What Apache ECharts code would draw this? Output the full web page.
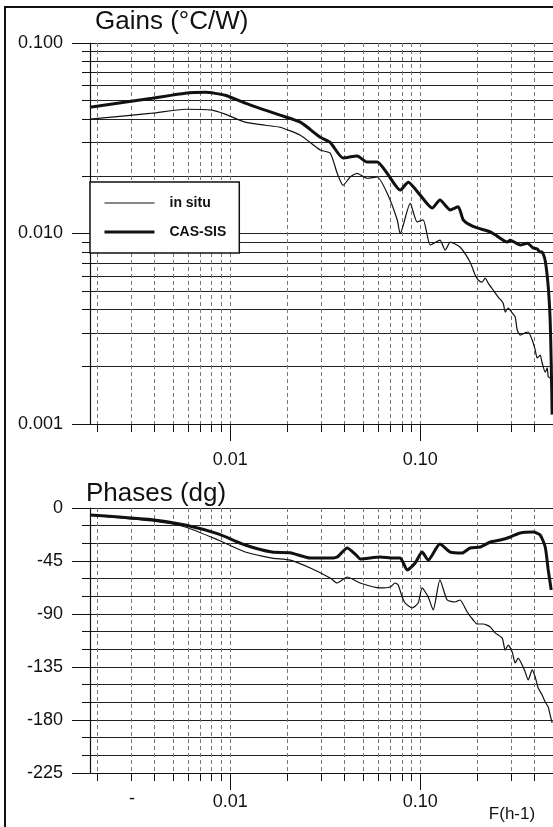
<!DOCTYPE html>
<html>
<head>
<meta charset="utf-8">
<script src="https://cdn.jsdelivr.net/npm/echarts@6/dist/echarts.min.js"></script>
<style>
  html, body { margin: 0; padding: 0; background: #fff; }
  #chart { width: 553px; height: 827px; }
</style>
</head>
<body>
<div id="chart"></div>
<script>
const FONT = '"Liberation Sans", Arial, sans-serif';
const INK = '#111';

// frequency axis, h-1
const F_MIN = 0.00183;
const F_MAX = 0.5;
const freqGrid = [0.002, 0.003, 0.004, 0.005, 0.006, 0.007, 0.008, 0.009, 0.01,
    0.02, 0.03, 0.04, 0.05, 0.06, 0.07, 0.08, 0.09, 0.1, 0.2, 0.3, 0.4, 0.5];
const freqLabels = [0.01, 0.1];

// gain axis (°C/W), log
const gainGrid = [0.001, 0.002, 0.003, 0.004, 0.005, 0.006, 0.007, 0.008, 0.009,
    0.01, 0.02, 0.03, 0.04, 0.05, 0.06, 0.07, 0.08, 0.09, 0.1];
const gainLabels = [0.001, 0.01, 0.1];

// [frequency, gain]
const gainInSitu = [
    [0.00183, 0.0398], [0.00389, 0.0428], [0.0058, 0.0449], [0.00804, 0.0444],
    [0.00941, 0.0423], [0.012, 0.0384], [0.0153, 0.037], [0.0183, 0.0361],
    [0.0234, 0.0328], [0.0298, 0.0274], [0.0336, 0.0264], [0.0366, 0.0207],
    [0.0393, 0.0179], [0.0428, 0.0198], [0.0466, 0.0207], [0.0526, 0.0195],
    [0.0594, 0.0198], [0.067, 0.0163], [0.0757, 0.0118], [0.0785, 0.01],
    [0.0886, 0.0144], [0.0964, 0.0115], [0.1037, 0.0118], [0.113, 0.0087],
    [0.127, 0.00923], [0.1354, 0.00818], [0.144, 0.00902], [0.162, 0.00849],
    [0.183, 0.00708], [0.1947, 0.00605], [0.202, 0.0057], [0.212, 0.00556],
    [0.2198, 0.00584], [0.228, 0.00549], [0.2422, 0.00505], [0.2573, 0.00464],
    [0.2734, 0.00431], [0.2802, 0.00387], [0.2904, 0.00406], [0.305, 0.00383],
    [0.3162, 0.00365], [0.324, 0.00312], [0.336, 0.00293], [0.3569, 0.00301],
    [0.3702, 0.00304], [0.3886, 0.00276], [0.403, 0.00245], [0.4127, 0.00222],
    [0.428, 0.0023], [0.4385, 0.00209], [0.455, 0.00187], [0.4662, 0.00197],
    [0.4719, 0.00177], [0.483, 0.00175], [0.4952, 0.00148]
];
const gainCasSis = [
    [0.00183, 0.046], [0.00389, 0.0513], [0.0058, 0.0545], [0.00739, 0.0551],
    [0.00941, 0.0532], [0.012, 0.0483], [0.0153, 0.0444], [0.0183, 0.0418],
    [0.0234, 0.0384], [0.0298, 0.032], [0.0336, 0.0301], [0.0393, 0.0249],
    [0.0466, 0.0255], [0.0526, 0.0237], [0.0594, 0.0237], [0.067, 0.0207],
    [0.0785, 0.0169], [0.0865, 0.0186], [0.1, 0.0159], [0.1157, 0.0136],
    [0.127, 0.015], [0.144, 0.0133], [0.1585, 0.0138], [0.1684, 0.0118],
    [0.183, 0.0111], [0.1995, 0.0107], [0.234, 0.0102], [0.254, 0.00969],
    [0.287, 0.00902], [0.298, 0.00923], [0.336, 0.0087], [0.366, 0.0089],
    [0.393, 0.00839], [0.413, 0.00829], [0.428, 0.00799], [0.438, 0.008],
    [0.455, 0.0072], [0.472, 0.00524], [0.483, 0.00352], [0.489, 0.00217],
    [0.495, 0.00112]
];

// phase axis (dg)
const PHASE_MIN = -225;
const PHASE_MAX = 0;

// [frequency, phase]
const phaseInSitu = [
    [0.00183, -6], [0.00389, -11], [0.0058, -16.1], [0.00865, -27.2],
    [0.012, -37.4], [0.0166, -42.5], [0.0207, -44.2], [0.0264, -50.9],
    [0.0336, -59.4], [0.0366, -63.7], [0.0413, -58.6], [0.0483, -63.7],
    [0.0616, -67.9], [0.0695, -67.1], [0.0738, -63.7], [0.0766, -65.4],
    [0.0804, -75.6], [0.0834, -80.7], [0.0908, -84.9], [0.0976, -80.7],
    [0.1024, -67.9], [0.1102, -75.6], [0.1171, -86.6], [0.127, -61.1],
    [0.1387, -78.1], [0.1528, -79.8], [0.162, -78.1], [0.1768, -88.3],
    [0.1901, -95.1], [0.1995, -98.5], [0.2146, -98.5], [0.234, -101],
    [0.2481, -106], [0.2701, -110.4], [0.2802, -120.6], [0.2904, -116.3],
    [0.305, -122.3], [0.3162, -131.6], [0.328, -127.4], [0.3441, -133.3],
    [0.3569, -139.2], [0.3702, -146], [0.3886, -137.5], [0.403, -143.5],
    [0.4179, -152.8], [0.4385, -158.8], [0.455, -164.7], [0.4719, -169],
    [0.483, -175.8], [0.4952, -182.5]
];
const phaseCasSis = [
    [0.00183, -6], [0.00389, -10], [0.0058, -14.4], [0.00865, -22],
    [0.012, -31.4], [0.0166, -37.4], [0.0207, -38], [0.0264, -42.5],
    [0.0336, -42.5], [0.0366, -41.6], [0.0413, -34], [0.0466, -40.8],
    [0.0483, -43.3], [0.0616, -41.6], [0.0721, -42.5], [0.0785, -42.5],
    [0.0855, -52.6], [0.0941, -46.7], [0.1024, -37.4], [0.1102, -44.2],
    [0.127, -30.6], [0.144, -37.4], [0.1664, -38.2], [0.183, -34],
    [0.207, -33.1], [0.234, -28.9], [0.264, -27.2], [0.298, -24.6],
    [0.336, -21.2], [0.3933, -20.4], [0.428, -22.9], [0.455, -33.1],
    [0.4719, -52.6], [0.4894, -69.6]
];

const THIN = 1.2;
const THICK = 3;

const chart = echarts.init(document.getElementById('chart'), null, { renderer: 'canvas' });

const hLine = { color: '#222', width: 1 };
const vLine = { color: '#777', width: 1, type: [4, 3] };
const label = { fontFamily: FONT, fontSize: 18, color: INK };

// one axis carries the grid and short ticks, a second one on top the long ticks and labels
function freqAxes(gridIndex, labelMargin) {
    return [
        {
            gridIndex, type: 'log', position: 'bottom', min: F_MIN, max: F_MAX,
            axisLine: { show: true, onZero: false, lineStyle: { color: INK, width: 1.2 } },
            axisTick: { show: true, customValues: freqGrid, length: 8, lineStyle: { color: INK } },
            axisLabel: { show: false },
            splitLine: { show: true, lineStyle: vLine }
        },
        {
            gridIndex, type: 'log', position: 'bottom', min: F_MIN, max: F_MAX,
            axisLine: { show: false, onZero: false },
            axisTick: { show: true, customValues: freqLabels, length: 17, lineStyle: { color: INK } },
            axisLabel: Object.assign({ customValues: freqLabels, margin: labelMargin,
                formatter: v => v.toFixed(2) }, label),
            splitLine: { show: false }
        }
    ];
}

function curve(name, xi, yi, data, width) {
    return {
        name, type: 'line', xAxisIndex: xi, yAxisIndex: yi, data,
        symbol: 'none', smooth: 0.2,
        lineStyle: { color: INK, width }, itemStyle: { color: INK }
    };
}

const option = {
    animation: false,
    backgroundColor: '#fff',
    grid: [
        { left: 90, top: 43, right: 0, height: 381 },
        { left: 90, top: 508, right: 0, height: 265 }
    ],
    title: [
        { text: 'Gains (°C/W)', left: 95, top: 9, padding: 0,
          textStyle: { fontFamily: FONT, fontSize: 26, fontWeight: 'normal', color: INK } },
        { text: 'Phases (dg)', left: 86, top: 481, padding: 0,
          textStyle: { fontFamily: FONT, fontSize: 26, fontWeight: 'normal', color: INK } }
    ],
    legend: {
        data: [
            { name: 'in situ', lineStyle: { color: INK, width: THIN } },
            { name: 'CAS-SIS', lineStyle: { color: INK, width: THICK } }
        ],
        orient: 'vertical', left: 90, top: 182,
        selectedMode: false,
        backgroundColor: '#fff', borderColor: INK, borderWidth: 1.5, borderRadius: 0,
        padding: [14, 13],
        itemWidth: 50, itemHeight: 14, itemGap: 15,
        itemStyle: { opacity: 0 },
        textStyle: { fontFamily: FONT, fontSize: 14, fontWeight: 'bold', color: INK, padding: [0, 0, 0, 10] }
    },
    xAxis: freqAxes(0, 27).concat(freqAxes(1, 20)),
    yAxis: [
        {
            gridIndex: 0, type: 'log', position: 'left', min: 0.001, max: 0.1,
            axisLine: { show: true, onZero: false, lineStyle: { color: INK, width: 1.2 } },
            axisTick: { show: true, customValues: gainGrid, length: 8, lineStyle: { color: INK } },
            axisLabel: { show: false },
            splitLine: { show: true, lineStyle: hLine }
        },
        {
            gridIndex: 0, type: 'log', position: 'left', min: 0.001, max: 0.1,
            axisLine: { show: false, onZero: false },
            axisTick: { show: true, customValues: gainLabels, length: 18, lineStyle: { color: INK } },
            axisLabel: Object.assign({ customValues: gainLabels, margin: 27,
                formatter: v => v.toFixed(3) }, label),
            splitLine: { show: false }
        },
        {
            gridIndex: 1, type: 'value', position: 'left', min: PHASE_MIN, max: PHASE_MAX, interval: 15,
            axisLine: { show: true, onZero: false, lineStyle: { color: INK, width: 1.2 } },
            axisTick: { show: true, length: 8, lineStyle: { color: INK } },
            axisLabel: { show: false },
            splitLine: { show: true, lineStyle: hLine }
        },
        {
            gridIndex: 1, type: 'value', position: 'left', min: PHASE_MIN, max: PHASE_MAX, interval: 45,
            axisLine: { show: false, onZero: false },
            axisTick: { show: true, length: 18, lineStyle: { color: INK } },
            axisLabel: Object.assign({ margin: 27 }, label),
            splitLine: { show: false }
        }
    ],
    series: [
        curve('in situ', 0, 0, gainInSitu, THIN),
        curve('CAS-SIS', 0, 0, gainCasSis, THICK),
        curve('in situ', 2, 2, phaseInSitu, THIN),
        curve('CAS-SIS', 2, 2, phaseCasSis, THICK)
    ],
    graphic: [
        { type: 'rect', silent: true, z: 100,
          shape: { x: 5, y: 7, width: 600, height: 900 },
          style: { fill: 'none', stroke: INK, lineWidth: 2 } },
        { type: 'text', x: 512, y: 814, silent: true,
          style: { text: 'F(h-1)', font: '17px ' + FONT, fill: INK, align: 'center', verticalAlign: 'middle' } },
        { type: 'text', x: 132, y: 799, silent: true,
          style: { text: '-', font: '18px ' + FONT, fill: INK, align: 'center', verticalAlign: 'middle' } }
    ]
};

chart.setOption(option);
</script>
</body>
</html>
